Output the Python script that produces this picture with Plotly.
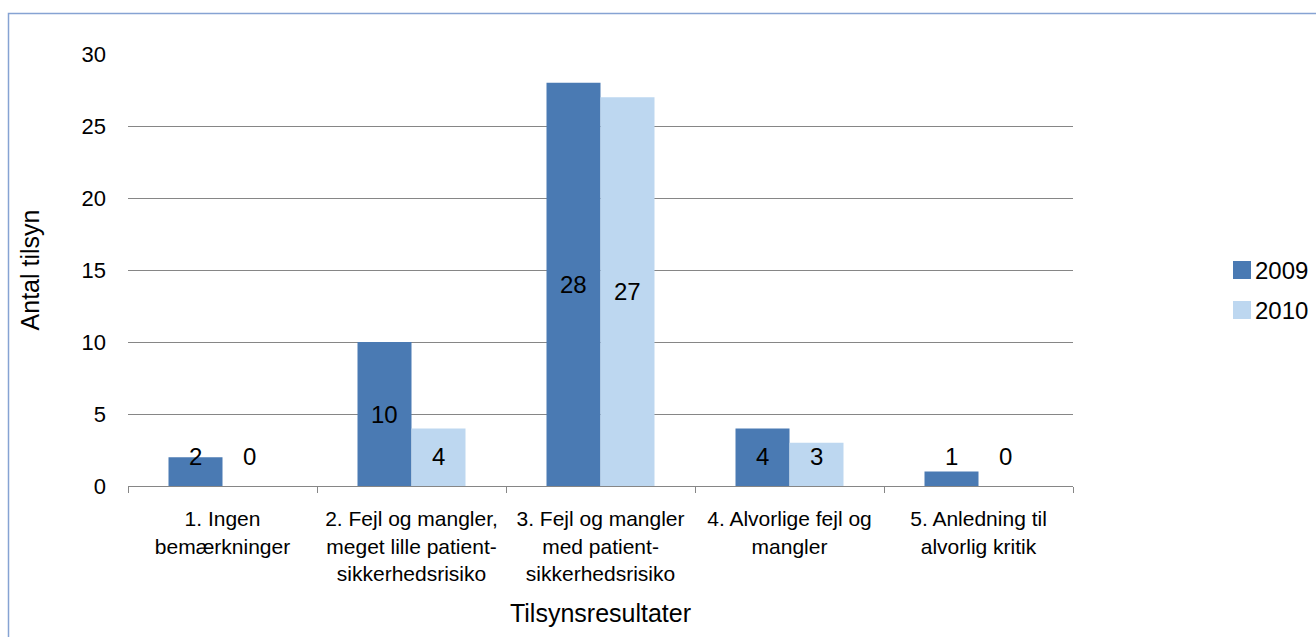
import plotly.graph_objects as go

# Inspection results by category, 2009 vs 2010
categories = [
    "1. Ingen<br>bemærkninger",
    "2. Fejl og mangler,<br>meget lille patient-<br>sikkerhedsrisiko",
    "3. Fejl og mangler<br>med patient-<br>sikkerhedsrisiko",
    "4. Alvorlige fejl og<br>mangler",
    "5. Anledning til<br>alvorlig kritik",
]
series_names = ["2009", "2010"]
values_2009 = [2, 10, 28, 4, 1]
values_2010 = [0, 4, 27, 3, 0]
y_ticks = [0, 5, 10, 15, 20, 25, 30]

colors = ["#4A7AB3", "#BDD7F0"]
FONT = "Liberation Sans, Arial, sans-serif"

W, H = 1316, 637
L, R, T, B = 128, 1073, 54, 486  # plot-area edges in pixels

fig = go.Figure()
for name, vals, col in zip(series_names, [values_2009, values_2010], colors):
    fig.add_trace(go.Bar(
        x=categories, y=vals, name=name, marker=dict(color=col, line=dict(width=0)),
        showlegend=False, hoverinfo="x+y",
    ))

# value labels centred in each bar, kept clear of the axis for short bars
px_per_unit = (B - T) / (y_ticks[-1] - y_ticks[0])
floor = 30 / px_per_unit
annotations = []
for shift, vals in zip([-27, 27], [values_2009, values_2010]):
    for cat, v in zip(categories, vals):
        annotations.append(dict(
            x=cat, y=max(v / 2, floor), xref="x", yref="y", xshift=shift,
            text=str(v), showarrow=False,
            font=dict(family=FONT, size=24, color="#000000"),
        ))

# legend drawn as swatches and labels to the right of the plot
def px_x(p):
    return (p - L) / (R - L)

def px_y(p):
    return (B - p) / (B - T)

shapes = []
for i, (name, col) in enumerate(zip(series_names, colors)):
    top = 261 + 40 * i
    shapes.append(dict(
        type="rect", xref="paper", yref="paper",
        x0=px_x(1233), x1=px_x(1251), y0=px_y(top + 18), y1=px_y(top),
        fillcolor=col, line=dict(width=0),
    ))
    annotations.append(dict(
        x=px_x(1253), y=px_y(top + 9), xref="paper", yref="paper",
        text=name, showarrow=False, xanchor="left", yanchor="middle",
        font=dict(family=FONT, size=24, color="#000000"),
    ))

# chart-area border
shapes.append(dict(
    type="rect", xref="paper", yref="paper",
    x0=px_x(8.5), x1=px_x(1340), y0=px_y(660), y1=px_y(13.5),
    line=dict(color="#86A3D3", width=1.5), fillcolor="rgba(0,0,0,0)", layer="below",
))

fig.update_layout(
    width=W, height=H,
    margin=dict(l=L, r=W - R, t=T, b=H - B, autoexpand=False),
    paper_bgcolor="white", plot_bgcolor="white",
    barmode="group", bargap=0.4286, bargroupgap=0,
    font=dict(family=FONT, color="#000000"),
    annotations=annotations, shapes=shapes,
)
fig.update_xaxes(
    type="category", showgrid=False, showline=True, linecolor="#868686", linewidth=1,
    ticks="outside", tickson="boundaries", ticklen=6, tickcolor="#868686",
    ticklabelstandoff=14,
    tickfont=dict(family=FONT, size=21, color="#000000"),
    title=dict(text="Tilsynsresultater", font=dict(family=FONT, size=25), standoff=20),
)
fig.update_yaxes(
    range=[0, 30], tickvals=y_ticks, showgrid=True, gridcolor="#868686", gridwidth=1,
    showline=False, zeroline=True, zerolinecolor="#868686", zerolinewidth=1,
    ticks="", ticklabelstandoff=21,
    tickfont=dict(family=FONT, size=22, color="#000000"),
    title=dict(text="Antal tilsyn", font=dict(family=FONT, size=25), standoff=34),
)

fig.write_html("out.html")
